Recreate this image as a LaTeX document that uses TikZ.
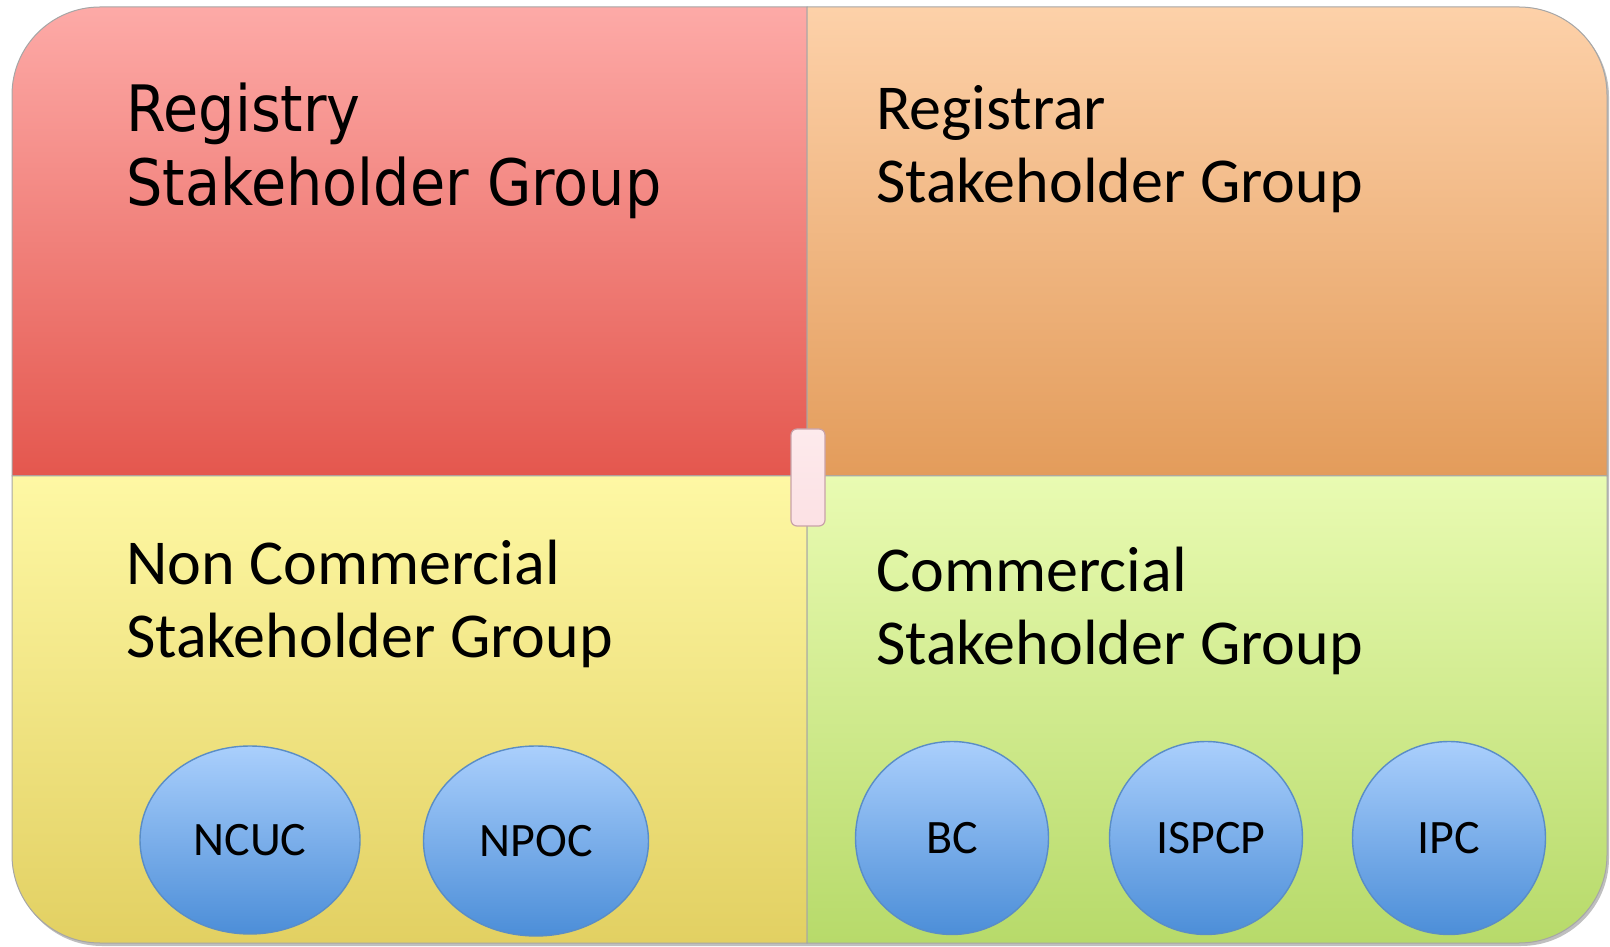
\documentclass[tikz,border=0pt]{standalone}
\usepackage{fontspec}
\setmainfont{Carlito}
\newfontfamily\regfont[FakeStretch=0.895]{DejaVu Sans}
\usetikzlibrary{shapes.geometric}
\definecolor{redTop}{HTML}{FDAAA7}
\definecolor{redBot}{HTML}{E4574E}
\definecolor{orTop}{HTML}{FDD1A9}
\definecolor{orBot}{HTML}{E39C5B}
\definecolor{yeTop}{HTML}{FEF8A4}
\definecolor{yeBot}{HTML}{E2D062}
\definecolor{grTop}{HTML}{E9FBB2}
\definecolor{grBot}{HTML}{B7DA6A}
\definecolor{ciTop}{HTML}{AACFFC}
\definecolor{ciBot}{HTML}{4C8ED8}
\definecolor{ciLine}{HTML}{5A8DC6}
\definecolor{pinkFill}{HTML}{FCE1E4}
\definecolor{pinkLine}{HTML}{C9A2A9}
\tikzset{
  quad/.style={draw=black!35, line width=1pt},
  grouptext/.style={anchor=base west, inner sep=0pt, align=left, font=\fontsize{64}{73}\selectfont},
  circ/.style={ellipse, draw=ciLine, line width=1.4pt, top color=ciTop, bottom color=ciBot,
    inner sep=0pt, font=\fontsize{48}{56}\selectfont},
  link/.style={rectangle, rounded corners=6pt, draw=pinkLine, line width=1.2pt,
    top color=pinkFill!70!white, bottom color=pinkFill, minimum width=34pt, minimum height=97pt}
}
\begin{document}
\begin{tikzpicture}[x=1pt,y=1pt]
\useasboundingbox (0,0) rectangle (1610,946);
% soft shadow
\fill[black!25, rounded corners=88pt] (14,0) rectangle (1609,937);
% quadrants
\shade[quad, top color=redTop, bottom color=redBot]
  (807,939) -- (100,939) arc[start angle=90, end angle=180, radius=88] -- (12,470) -- (807,470) -- cycle;
\shade[quad, top color=orTop, bottom color=orBot]
  (807,939) -- (1519,939) arc[start angle=90, end angle=0, radius=88] -- (1607,470) -- (807,470) -- cycle;
\shade[quad, top color=yeTop, bottom color=yeBot]
  (807,470) -- (12,470) -- (12,91) arc[start angle=180, end angle=270, radius=88] -- (807,3) -- cycle;
\shade[quad, top color=grTop, bottom color=grBot]
  (807,470) -- (1607,470) -- (1607,91) arc[start angle=0, end angle=-90, radius=88] -- (807,3) -- cycle;
% texts (anchor = baseline of the last line)
\node[grouptext, font=\regfont\fontsize{64}{74}\selectfont] (registry) at (126,740) {Registry\\Stakeholder Group};
\node[grouptext] (registrar) at (876,743) {Registrar\\Stakeholder Group};
\node[grouptext] (noncom) at (126,288) {Non Commercial\\Stakeholder Group};
\node[grouptext] (com) at (876,281) {Commercial\\Stakeholder Group};
% centre link
\node[link] (centre) at (808,468.5) {};
% constituencies
\node[circ, minimum width=220pt, minimum height=188pt] (ncuc) at (250,106) {NCUC};
\node[circ, minimum width=225pt, minimum height=190pt] (npoc) at (536,105) {NPOC};
\node[circ, minimum width=193pt, minimum height=193pt] (bc) at (952,108) {BC};
\node[circ, minimum width=193pt, minimum height=193pt] (ispcp) at (1206,108) {\hspace{10pt}ISPCP};
\node[circ, minimum width=193pt, minimum height=193pt] (ipc) at (1449,108) {IPC};
\end{tikzpicture}
\end{document}
